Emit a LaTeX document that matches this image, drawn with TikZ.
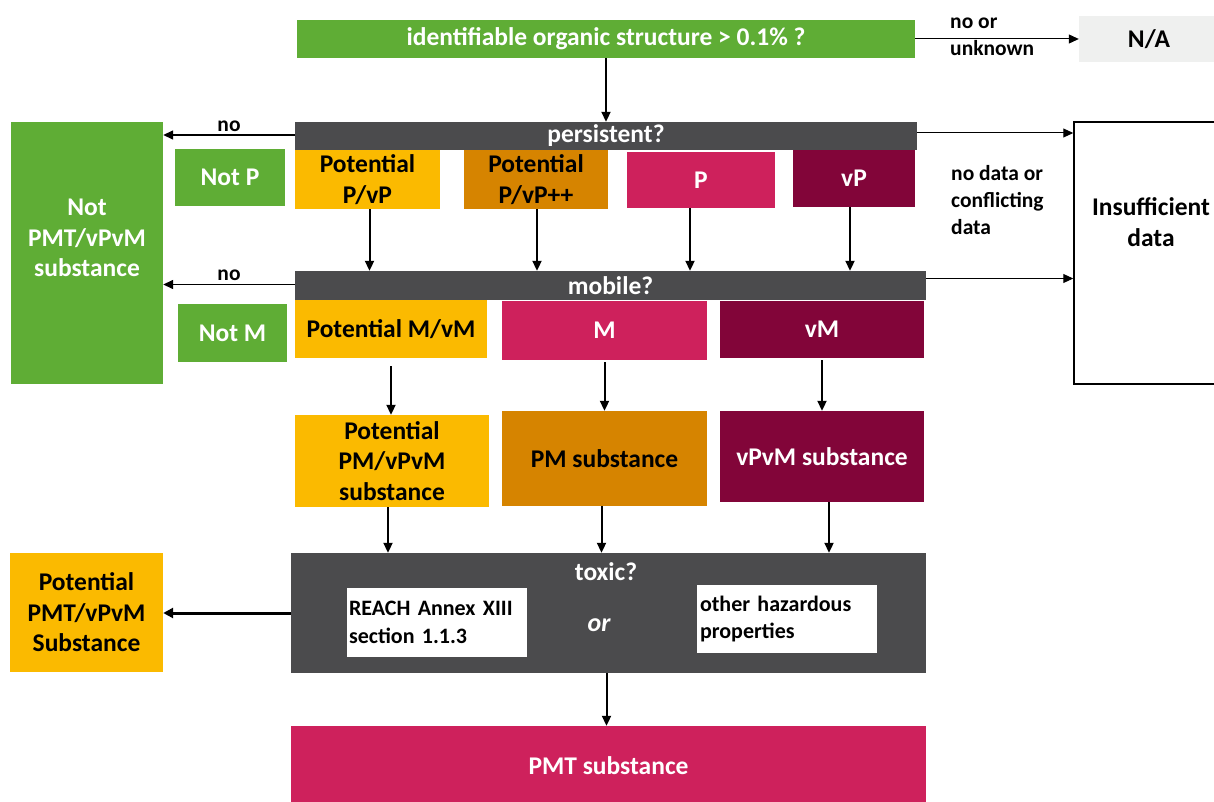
\documentclass[tikz,border=0pt]{standalone}
\usepackage{fontspec}
\setmainfont{Carlito}
\usetikzlibrary{arrows.meta}
\definecolor{cgreen}{HTML}{5FAD35}
\definecolor{cyellow}{HTML}{FBBA00}
\definecolor{corange}{HTML}{D68400}
\definecolor{cpink}{HTML}{CE215C}
\definecolor{cburg}{HTML}{820539}
\definecolor{cdark}{HTML}{4B4B4D}
\definecolor{clight}{HTML}{EFF0EF}
\begin{document}
\begin{tikzpicture}[x=1pt,y=-1pt,
  box/.style={inner sep=0pt, align=center, font=\bfseries\fontsize{25.5}{30.5}\selectfont},
  small/.style={inner sep=0pt, align=left, font=\bfseries\fontsize{21.5}{27}\selectfont},
  arr/.style={-{Triangle[length=10pt,width=9pt]}, line width=2pt},
  thin/.style={-{Triangle[length=10pt,width=9pt]}, line width=1pt},
  thick/.style={-{Triangle[length=10pt,width=10pt]}, line width=3pt}]
\useasboundingbox (0,0) rectangle (1214,802);
\clip (0,0) rectangle (1214,802);
% top
\node[box, fill=cgreen, text=white, minimum width=618pt, minimum height=38pt] (top) at (606,39) {identifiable organic structure > 0.1\% ?};
\node[box, fill=clight, minimum width=140pt, minimum height=46pt] (na) at (1149,39) {N/A};
\node[small, anchor=west] (nolab) at (950,37) {no or\\unknown};
% persistent
\node[box, fill=cdark, text=white, minimum width=622pt, minimum height=28pt] (pers) at (606,136) {persistent?};
\node[box, fill=cyellow, minimum width=145pt, minimum height=59pt] (ppvp) at (367.5,179.5) {Potential\\P/vP};
\node[box, fill=corange, minimum width=144pt, minimum height=59pt] (ppvpp) at (536,179.5) {Potential\\P/vP++};
\node[box, fill=cpink, text=white, minimum width=148pt, minimum height=56pt] (p) at (701,180) {P};
\node[box, fill=cburg, text=white, minimum width=122pt, minimum height=57pt] (vp) at (854,178.5) {vP};
\node[box, fill=cgreen, text=white, minimum width=110pt, minimum height=57pt] (notp) at (230,177.5) {Not P};
% left big box
\node[box, fill=cgreen, minimum width=152pt, minimum height=262pt] (notpmt) at (87,253) {};
\node[box, text=white] (notpmttxt) at (87,238) {Not\\PMT/vPvM\\substance};
% insufficient
\node[box, draw=black, line width=1.5pt, minimum width=154pt, minimum height=262pt] (ins) at (1151,253) {};
\node[box] (instxt) at (1151,222) {Insufficient\\data};
\node[small, anchor=west] (nodata) at (951,200) {no data or\\conflicting\\data};
% mobile
\node[box, fill=cdark, text=white, minimum width=631pt, minimum height=29pt] (mob) at (610.5,285.5) {mobile?};
\node[box, fill=cgreen, text=white, minimum width=109pt, minimum height=58pt] (notm) at (232.5,333) {Not M};
\node[box, fill=cyellow, minimum width=192pt, minimum height=58pt] (pmvm) at (391,329) {Potential M/vM};
\node[box, fill=cpink, text=white, minimum width=205pt, minimum height=59pt] (m) at (604.5,330.5) {M};
\node[box, fill=cburg, text=white, minimum width=204pt, minimum height=57pt] (vm) at (822,329.5) {vM};
% substances
\node[box, fill=cyellow, minimum width=194pt, minimum height=92pt] (ppm) at (392,461) {Potential\\PM/vPvM\\substance};
\node[box, fill=corange, minimum width=205pt, minimum height=95pt] (pm) at (604.5,458.5) {PM substance};
\node[box, fill=cburg, text=white, minimum width=204pt, minimum height=91pt] (vpvm) at (822,456.5) {vPvM substance};
% toxic
\node[box, fill=cdark, minimum width=635pt, minimum height=120pt] (tox) at (608.5,613) {};
\node[box, text=white] (toxtxt) at (606,572) {toxic?};
\node[small, fill=white, minimum width=180pt, minimum height=69pt, text width=176pt, font=\bfseries\fontsize{22}{28}\selectfont] (reach) at (437,622.5) {REACH Annex XIII\\section 1.1.3};
\node[small, fill=white, minimum width=180pt, minimum height=68pt, text width=174pt, font=\bfseries\fontsize{22}{27}\selectfont] (other) at (787,619) {other hazardous\\properties};
\node[box, text=white, font=\bfseries\itshape\fontsize{26}{30}\selectfont] (or) at (599,625) {or};
\node[box, fill=cyellow, minimum width=153pt, minimum height=119pt] (ppmt) at (86.5,612.5) {Potential\\PMT/vPvM\\Substance};
\node[box, fill=cpink, text=white, minimum width=635pt, minimum height=80pt] (pmt) at (608.5,766) {PMT substance};
% arrows
\draw[arr] (top.south) -- (pers.north);
\draw[thin] (top.east) -- (na.west);
\draw[thin, line width=1.5pt] ([yshift=1pt]pers.west) -- ([yshift=1pt]pers.west -| notpmt.east) node[midway, above=3pt, small] {no};
\draw[thin, line width=1.5pt] ([yshift=1pt]mob.west) -- ([yshift=1pt]mob.west -| notpmt.east) node[midway, above=3pt, small] {no};
\draw[thin] ([yshift=3pt]pers.east) -- ([yshift=3pt]pers.east -| ins.west);
\draw[thin] ([yshift=7pt]mob.east) -- ([yshift=7pt]mob.east -| ins.west);
\draw[arr] ([xshift=2pt]ppvp.south) -- ([xshift=2pt]ppvp.south |- mob.north);
\draw[arr] ([xshift=1pt]ppvpp.south) -- ([xshift=1pt]ppvpp.south |- mob.north);
\draw[arr] ([xshift=-11pt]p.south) -- ([xshift=-11pt]p.south |- mob.north);
\draw[arr] ([xshift=-4pt]vp.south) -- ([xshift=-4pt]vp.south |- mob.north);
\draw[arr] ([yshift=-8pt]pmvm.south) -- (pmvm.south |- ppm.north);
\draw[arr] ([yshift=-2pt]m.south) -- (m.south |- pm.north);
\draw[arr] ([yshift=-2pt]vm.south) -- (vm.south |- vpvm.north);
\draw[arr] ([xshift=-4pt]ppm.south) -- ([xshift=-4pt]ppm.south |- tox.north);
\draw[arr] ([xshift=-3pt]pm.south) -- ([xshift=-3pt]pm.south |- tox.north);
\draw[arr] ([xshift=7pt]vpvm.south) -- ([xshift=7pt]vpvm.south |- tox.north);
\draw[thick] (tox.west) -- (tox.west -| ppmt.east);
\draw[arr] ([xshift=-2pt]tox.south) -- ([xshift=-2pt]tox.south |- pmt.north);
\end{tikzpicture}
\end{document}
